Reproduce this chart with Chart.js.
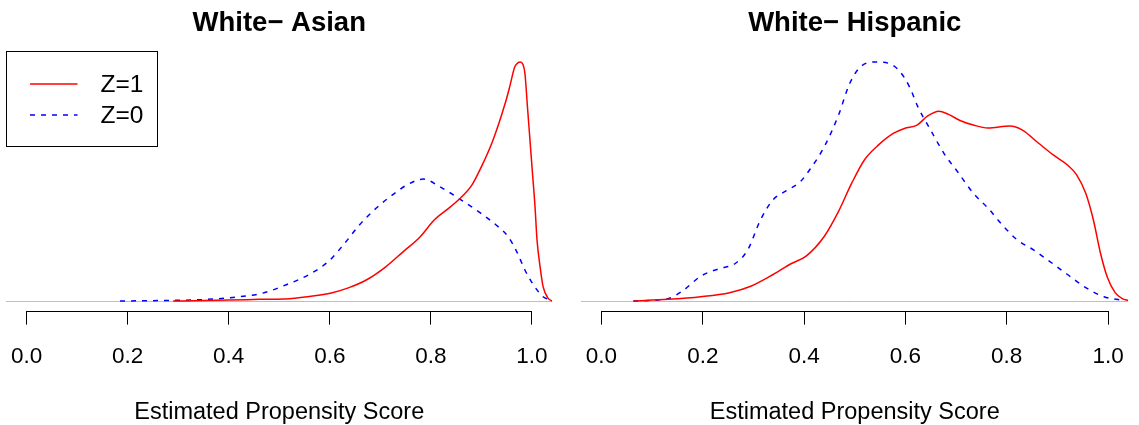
<!DOCTYPE html>
<html>
<head>
<meta charset="utf-8">
<script src="https://cdn.jsdelivr.net/npm/chart.js@4.4.1/dist/chart.umd.min.js"></script>
<style>
  html, body { margin: 0; padding: 0; background: #fff; }
  #wrap { position: relative; width: 1139px; height: 425px; overflow: hidden; }
  .panel { position: absolute; top: 0; height: 425px; }
  #left { left: 0; width: 570px; }
  #right { left: 570px; width: 569px; }
</style>
</head>
<body>
<div id="wrap">
  <div class="panel" id="left"><canvas id="asianChart" width="570" height="425"></canvas></div>
  <div class="panel" id="right"><canvas id="hispanicChart" width="569" height="425"></canvas></div>
</div>
<script>
const FONT = "'Liberation Sans', Arial, Helvetica, sans-serif";

// Axis ticks and labels
const tickValues = [0, 0.2, 0.4, 0.6, 0.8, 1.0];
const tickLabels = ['0.0', '0.2', '0.4', '0.6', '0.8', '1.0'];
const seriesLabels = ['Z=1', 'Z=0'];
const panelTitles = ['White\u2212 Asian', 'White\u2212 Hispanic'];
const axisTitle = 'Estimated Propensity Score';

// White - Asian, Z=1 (relative density, peak = 1)
const asianTreatedX = [0.29, 0.35, 0.40, 0.46, 0.52, 0.57, 0.605, 0.638, 0.674, 0.71, 0.746, 0.778, 0.807, 0.831, 0.858, 0.881, 0.900, 0.923, 0.947, 0.956, 0.966, 0.972, 0.977, 0.982, 0.986, 0.991, 0.996, 1.001, 1.006, 1.010, 1.016, 1.022, 1.032, 1.04];
const asianTreatedY = [0, 0.002, 0.004, 0.007, 0.010, 0.022, 0.035, 0.056, 0.090, 0.142, 0.208, 0.267, 0.340, 0.381, 0.430, 0.485, 0.562, 0.674, 0.827, 0.897, 0.98, 0.996, 1.0, 0.99, 0.953, 0.813, 0.674, 0.534, 0.395, 0.255, 0.144, 0.060, 0.011, 0];

// White - Asian, Z=0
const asianControlX = [0.185, 0.293, 0.350, 0.408, 0.465, 0.515, 0.559, 0.598, 0.630, 0.659, 0.692, 0.724, 0.753, 0.785, 0.818, 0.858, 0.897, 0.933, 0.953, 0.970, 0.986, 1.003, 1.022, 1.035];
const asianControlY = [0, 0.003, 0.006, 0.015, 0.032, 0.069, 0.111, 0.167, 0.243, 0.319, 0.389, 0.444, 0.486, 0.510, 0.478, 0.425, 0.370, 0.311, 0.269, 0.206, 0.130, 0.067, 0.018, 0.005];

// White - Hispanic, Z=1
const hispTreatedX = [0.063, 0.131, 0.196, 0.253, 0.296, 0.339, 0.375, 0.404, 0.440, 0.468, 0.494, 0.519, 0.547, 0.576, 0.598, 0.623, 0.644, 0.666, 0.684, 0.709, 0.734, 0.763, 0.806, 0.831, 0.863, 0.892, 0.920, 0.938, 0.956, 0.971, 0.985, 0.999, 1.014, 1.028, 1.04];
const hispTreatedY = [0, 0.007, 0.018, 0.035, 0.063, 0.111, 0.157, 0.188, 0.271, 0.375, 0.493, 0.590, 0.653, 0.701, 0.722, 0.736, 0.774, 0.794, 0.782, 0.754, 0.736, 0.724, 0.732, 0.715, 0.660, 0.611, 0.569, 0.528, 0.451, 0.340, 0.201, 0.097, 0.035, 0.010, 0.003];

// White - Hispanic, Z=0
const hispControlX = [0.063, 0.131, 0.160, 0.196, 0.232, 0.264, 0.289, 0.314, 0.339, 0.368, 0.393, 0.411, 0.440, 0.468, 0.490, 0.511, 0.540, 0.569, 0.590, 0.608, 0.626, 0.648, 0.676, 0.705, 0.734, 0.763, 0.791, 0.820, 0.852, 0.884, 0.920, 0.956, 0.992, 1.028];
const hispControlY = [0, 0.010, 0.042, 0.104, 0.135, 0.157, 0.215, 0.340, 0.424, 0.465, 0.500, 0.549, 0.646, 0.778, 0.910, 0.979, 1.0, 0.993, 0.958, 0.896, 0.806, 0.722, 0.618, 0.535, 0.451, 0.389, 0.319, 0.257, 0.215, 0.167, 0.111, 0.056, 0.018, 0.003];

function pairs(xs, ys) {
  return xs.map((x, i) => ({ x: x, y: ys[i] }));
}

// R style x axis line: only spans first to last tick
const rAxisLine = {
  id: 'rAxisLine',
  afterDraw(chart) {
    const s = chart.scales.x;
    const ctx = chart.ctx;
    const y = Math.round(s.top) + 0.5;
    ctx.save();
    ctx.strokeStyle = '#000';
    ctx.lineWidth = 1;
    ctx.beginPath();
    ctx.moveTo(s.getPixelForValue(tickValues[0]), y);
    ctx.lineTo(s.getPixelForValue(tickValues[tickValues.length - 1]), y);
    ctx.stroke();
    ctx.restore();
  }
};

// Boxed legend in the top-left corner of the plot region
const rLegend = {
  id: 'rLegend',
  afterDraw(chart, args, opts) {
    if (!opts.display) return;
    const ctx = chart.ctx;
    const area = chart.chartArea;
    const x0 = Math.round(area.left) + 0.5;
    const y0 = Math.round(area.top) - 0.5;
    ctx.save();
    ctx.fillStyle = '#fff';
    ctx.fillRect(x0, y0, 151, 95);
    ctx.strokeStyle = '#000';
    ctx.lineWidth = 1;
    ctx.strokeRect(x0, y0, 151, 95);
    chart.data.datasets.forEach((ds, i) => {
      const ly = y0 + 32.5 + i * 31;
      ctx.beginPath();
      ctx.setLineDash(ds.borderDash || []);
      ctx.strokeStyle = ds.borderColor;
      ctx.lineWidth = ds.borderWidth;
      ctx.moveTo(x0 + 23.5, ly);
      ctx.lineTo(x0 + 71, ly);
      ctx.stroke();
      ctx.setLineDash([]);
      ctx.fillStyle = '#000';
      ctx.font = '24.5px ' + FONT;
      ctx.textAlign = 'left';
      ctx.textBaseline = 'middle';
      ctx.fillText(ds.label, x0 + 94, ly + 1);
    });
    ctx.restore();
  }
};

function makeChart(canvasId, title, treated, control, pad, showLegend) {
  const ctx = document.getElementById(canvasId).getContext('2d');
  return new Chart(ctx, {
    type: 'line',
    data: {
      datasets: [
        {
          label: seriesLabels[0],
          data: treated,
          borderColor: '#ff0000',
          borderWidth: 1.5,
          pointRadius: 0,
          fill: false,
          cubicInterpolationMode: 'monotone'
        },
        {
          label: seriesLabels[1],
          data: control,
          borderColor: '#0000ff',
          borderWidth: 1.5,
          borderDash: [5, 6],
          pointRadius: 0,
          fill: false,
          cubicInterpolationMode: 'monotone'
        }
      ]
    },
    options: {
      responsive: false,
      animation: false,
      events: [],
      layout: { padding: { left: pad.left, right: pad.right, top: 0, bottom: 0 } },
      plugins: {
        legend: { display: false },
        tooltip: { enabled: false },
        title: {
          display: true,
          text: title,
          color: '#000',
          font: { family: FONT, size: 27.5, weight: 'bold' },
          padding: { top: 6.8, bottom: 12.6 }
        },
        rLegend: { display: showLegend }
      },
      scales: {
        x: {
          type: 'linear',
          min: -0.04,
          max: 1.04,
          afterBuildTicks: s => { s.ticks = tickValues.map(v => ({ value: v })); },
          afterFit: s => {
            s.height = 114.4;
            s.paddingLeft = 0;
            s.paddingRight = 0;
          },
          border: { display: false },
          grid: { drawOnChartArea: false, drawTicks: true, tickLength: 14, color: '#000', lineWidth: 1 },
          ticks: {
            autoSkip: false,
            maxRotation: 0,
            minRotation: 0,
            color: '#000',
            padding: 19,
            font: { family: FONT, size: 22.5 },
            callback: (v, i) => tickLabels[i]
          },
          title: {
            display: true,
            text: axisTitle,
            color: '#000',
            font: { family: FONT, size: 23.5, lineHeight: 1.1 },
            padding: { top: 0, bottom: 0 }
          }
        },
        y: {
          type: 'linear',
          min: -0.04,
          max: 1.04,
          afterBuildTicks: s => { s.ticks = [{ value: 0 }]; },
          afterFit: s => { s.width = 0; },
          border: { display: false },
          grid: { drawTicks: false, color: '#bebebe', lineWidth: 1 },
          ticks: { display: false }
        }
      }
    },
    plugins: [rAxisLine, rLegend]
  });
}

makeChart('asianChart', panelTitles[0],
  pairs(asianTreatedX, asianTreatedY), pairs(asianControlX, asianControlY),
  { left: 6.3, right: 17.8 }, true);

makeChart('hispanicChart', panelTitles[1],
  pairs(hispTreatedX, hispTreatedY), pairs(hispControlX, hispControlY),
  { left: 11.2, right: 10.7 }, false);
</script>
</body>
</html>
